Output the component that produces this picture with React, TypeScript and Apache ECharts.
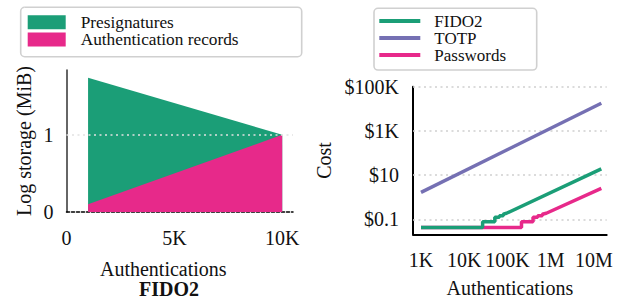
import React, { useEffect, useRef } from 'react';
import * as echarts from 'echarts';

// ---- Left panel: FIDO2 log storage ----
const storageAuths = [1000, 10000];
const authRecords = [0.1, 1.0];
const presignatures = [1.64, 0];
const storageYTicks = [0, 1];
const storageXTicks = [0, 5000, 10000];
const storageXLabels = ['0', '5K', '10K'];

// ---- Right panel: cost ----
const fido2Auths = [1000, 26600, 26600, 51000, 51000, 65000, 65000, 80000, 80000, 95000, 14800000];
const fido2Cost = [0.042, 0.042, 0.078, 0.078, 0.123, 0.123, 0.145, 0.145, 0.17, 0.187, 19];
const totpAuths = [1000, 14800000];
const totpCost = [1.66, 17800];
const passwordAuths = [1000, 211000, 211000, 390000, 390000, 500000, 500000, 640000, 640000, 790000, 14800000];
const passwordCost = [0.042, 0.042, 0.078, 0.078, 0.123, 0.123, 0.145, 0.145, 0.17, 0.187, 2.5];
const costTicks = [0.1, 10, 1000, 100000];
const costTickLabels = ['$0.1', '$10', '$1K', '$100K'];
const authTicks = [1e3, 1e4, 1e5, 1e6, 1e7];
const authTickLabels = ['1K', '10K', '100K', '1M', '10M'];

const FONT = 'Liberation Serif';
const GREEN = '#1b9e77';
const PURPLE = '#7570b3';
const PINK = '#e7298a';

const lg = (v: number) => Math.log10(v);
const pickLabel = (ticks: number[], labels: string[], v: number, log: boolean) => {
  const i = ticks.findIndex((t) => Math.abs((log ? lg(t) : t) - v) < 1e-6);
  return i >= 0 ? labels[i] : '';
};

export default function App() {
  const ref = useRef<HTMLDivElement>(null);
  useEffect(() => {
    if (!ref.current) return;
    const chart = echarts.init(ref.current, null, { renderer: 'svg' });
    const txt = { fontFamily: FONT, fontSize: 20, color: '#111' };
    const gridDot = { color: '#cfcfcf', type: [2, 3.5] as any, width: 1.5 };
    chart.setOption({
      animation: false,
      textStyle: { fontFamily: FONT },
      grid: [
        { left: 66.5, right: 337, top: 70, bottom: 92 },
        { left: 413, right: 23.3, top: 86.7, bottom: 69.7 },
      ],
      xAxis: [
        {
          type: 'value', gridIndex: 0, min: 0, max: 10500,
          axisLine: { onZero: false, lineStyle: { color: '#000', width: 1.5, type: [3, 2] as any } },
          axisTick: { show: false },
          splitLine: { show: false },
          axisLabel: {
            ...txt, margin: 16, customValues: storageXTicks,
            formatter: (v: number) => pickLabel(storageXTicks, storageXLabels, v, false),
          },
        },
        {
          type: 'value', gridIndex: 1, min: 2.815, max: 7.295,
          axisLine: { onZero: false, lineStyle: { color: '#000', width: 2 } },
          axisTick: { show: false },
          splitLine: { show: false },
          axisLabel: {
            ...txt, margin: 16, customValues: authTicks.map(lg),
            formatter: (v: number) => pickLabel(authTicks, authTickLabels, v, true),
          },
          name: 'Authentications', nameLocation: 'middle', nameGap: 44,
          nameTextStyle: { ...txt },
        },
      ],
      yAxis: [
        {
          type: 'value', gridIndex: 0, min: 0, max: 1.84,
          axisLine: { show: true, onZero: false, lineStyle: { color: '#333', width: 1.5 } },
          axisTick: { show: false },
          splitLine: { show: false },
          axisLabel: {
            ...txt, margin: 13, customValues: storageYTicks,
            formatter: (v: number) => pickLabel(storageYTicks, storageYTicks.map(String), v, false),
          },
          name: 'Log storage (MiB)', nameLocation: 'middle', nameGap: 33,
          nameTextStyle: { ...txt },
        },
        {
          type: 'value', gridIndex: 1, min: -1.68, max: 5,
          axisLine: { show: true, onZero: false, lineStyle: { color: '#000', width: 2 } },
          axisTick: { show: false },
          splitLine: { show: false },
          axisLabel: {
            ...txt, margin: 14, customValues: costTicks.map(lg),
            formatter: (v: number) => pickLabel(costTicks, costTickLabels, v, true),
          },
          name: 'Cost', nameLocation: 'middle', nameGap: 79,
          nameTextStyle: { ...txt },
        },
      ],
      legend: [
        {
          data: ['Presignatures', 'Authentication records'],
          orient: 'vertical', left: 27.7, top: 13.5, padding: 0,
          itemWidth: 38, itemHeight: 14, itemGap: 0, icon: 'rect',
          itemStyle: { borderWidth: 0 },
          textStyle: { fontFamily: FONT, fontSize: 17.3, color: '#111', lineHeight: 17.3, padding: [0, 0, 0, 10] },
          selectedMode: false,
        },
        {
          data: ['FIDO2', 'TOTP', 'Passwords'],
          orient: 'vertical', left: 379.3, top: 12.5, padding: 0,
          itemWidth: 41, itemHeight: 14, itemGap: 0,
          icon: 'path://M0,0M41,14M0,5L41,5L41,9L0,9Z',
          itemStyle: { borderWidth: 0 },
          textStyle: { fontFamily: FONT, fontSize: 17, color: '#111', lineHeight: 17, padding: [0, 0, 0, 9] },
          selectedMode: false,
        },
      ],
      graphic: [
        {
          type: 'rect', z: 0, shape: { x: 20.7, y: 7.3, width: 281, height: 49.4, r: 4 },
          style: { fill: '#fff', stroke: '#d0d0d0', lineWidth: 1.6 },
        },
        {
          type: 'rect', z: 0, shape: { x: 374, y: 8.3, width: 162.7, height: 61.7, r: 4 },
          style: { fill: '#fff', stroke: '#d0d0d0', lineWidth: 1.6 },
        },
        {
          type: 'text', x: 163.3, y: 269,
          style: { text: 'Authentications', fontFamily: FONT, fontSize: 20, fill: '#111', align: 'center', verticalAlign: 'middle' },
        },
        {
          type: 'text', x: 169, y: 289,
          style: { text: 'FIDO2', fontFamily: FONT, fontSize: 20, fontWeight: 'bold', fill: '#111', align: 'center', verticalAlign: 'middle' },
        },
      ],
      series: [
        {
          name: 'Presignatures', type: 'line', xAxisIndex: 0, yAxisIndex: 0,
          data: storageAuths.map((x, i) => [x, authRecords[i] + presignatures[i]]),
          symbol: 'none', lineStyle: { width: 0, color: GREEN },
          itemStyle: { color: GREEN, borderWidth: 0 },
          areaStyle: { color: GREEN, opacity: 1 },
        },
        {
          name: 'Authentication records', type: 'line', xAxisIndex: 0, yAxisIndex: 0,
          data: storageAuths.map((x, i) => [x, authRecords[i]]),
          symbol: 'none', lineStyle: { width: 0, color: PINK },
          itemStyle: { color: PINK, borderWidth: 0 },
          areaStyle: { color: PINK, opacity: 1 },
          markLine: {
            silent: true, symbol: ['none', 'none'], label: { show: false },
            lineStyle: { color: '#e2e2e2', type: [2, 3.5] as any, width: 1.5 },
            data: [{ yAxis: 1 }],
          },
        },
        {
          name: 'Passwords', type: 'line', xAxisIndex: 1, yAxisIndex: 1,
          data: passwordAuths.map((x, i) => [lg(x), lg(passwordCost[i])]),
          symbol: 'none', lineStyle: { width: 3.5, color: PINK },
          itemStyle: { color: PINK, borderWidth: 0 },
          markLine: {
            silent: true, z: 1, symbol: ['none', 'none'], label: { show: false },
            lineStyle: gridDot,
            data: costTicks.map((t) => ({ yAxis: lg(t) })),
          },
        },
        {
          name: 'FIDO2', type: 'line', xAxisIndex: 1, yAxisIndex: 1,
          data: fido2Auths.map((x, i) => [lg(x), lg(fido2Cost[i])]),
          symbol: 'none', lineStyle: { width: 3.5, color: GREEN },
          itemStyle: { color: GREEN, borderWidth: 0 },
        },
        {
          name: 'TOTP', type: 'line', xAxisIndex: 1, yAxisIndex: 1,
          data: totpAuths.map((x, i) => [lg(x), lg(totpCost[i])]),
          symbol: 'none', lineStyle: { width: 3.5, color: PURPLE },
          itemStyle: { color: PURPLE, borderWidth: 0 },
        },
      ],
    });
    return () => chart.dispose();
  }, []);
  return (
    <div
      ref={ref}
      style={{ position: 'fixed', left: 0, top: 0, width: 630, height: 304, background: '#fff' }}
    />
  );
}
